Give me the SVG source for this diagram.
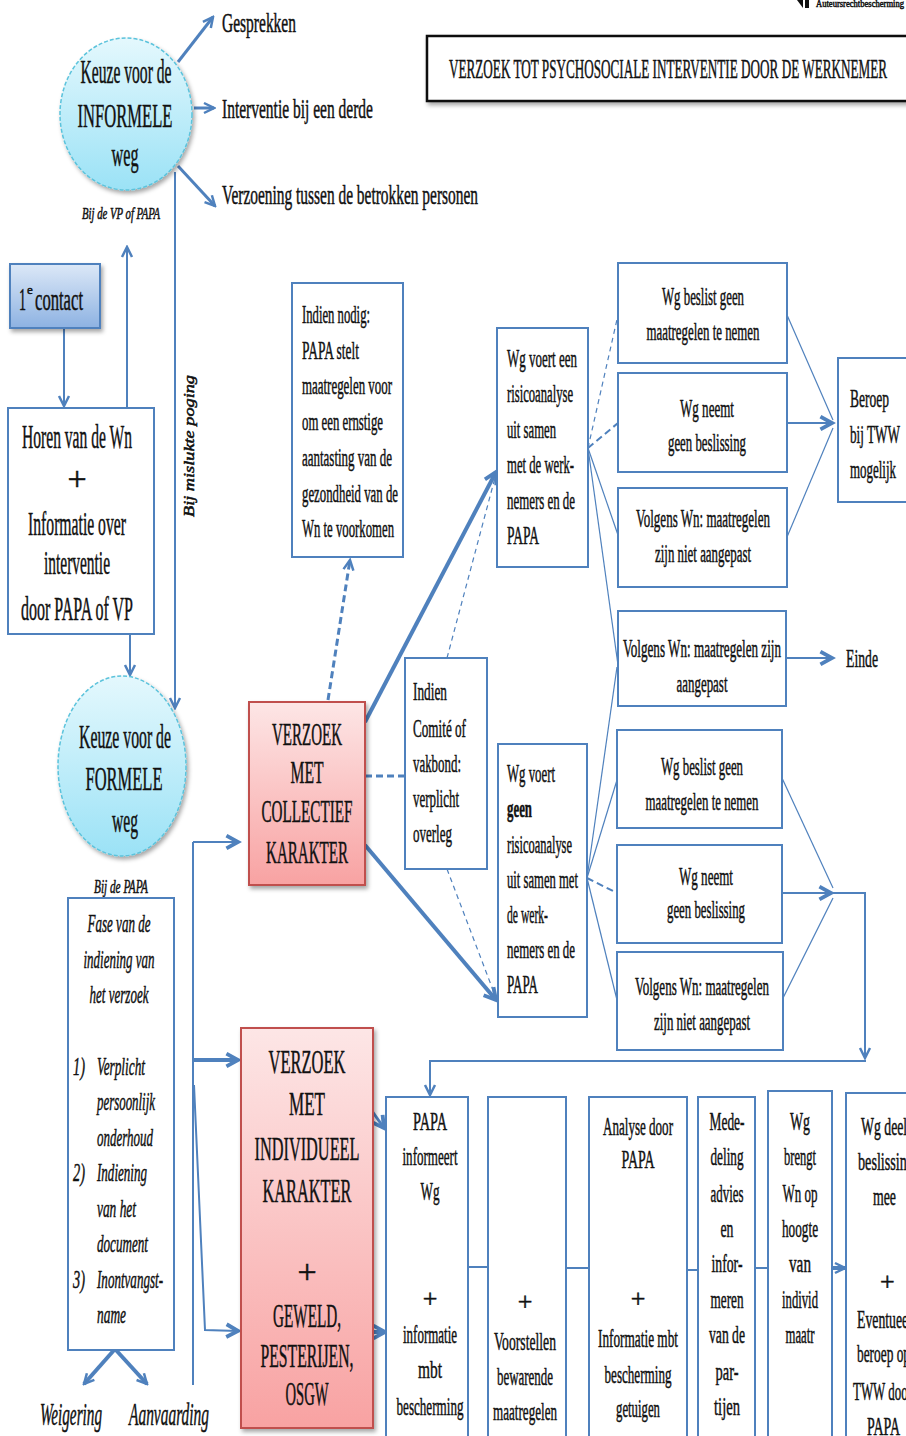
<svg xmlns="http://www.w3.org/2000/svg" width="906" height="1436" viewBox="0 0 906 1436">
<defs>
<style>
.t{font-family:"Liberation Serif","Times New Roman",serif;fill:#111;stroke:#111;stroke-width:0.5}
.c{text-anchor:middle}
.i{font-style:italic}
.s34{font-size:34px}.s32{font-size:32px}.s30{font-size:30px}.s28{font-size:28px}.s26{font-size:26px}.s18{font-size:18px}.s16{font-size:16px}
.box{fill:#fff;stroke:#4f81bd;stroke-width:2}
.ln{stroke:#4f81bd;stroke-width:2;fill:none}
.th{stroke-width:4}
.tk{stroke-width:3}
.tn{stroke-width:1.2}
.ds{stroke-dasharray:7,4}
.dt{stroke-dasharray:5,4}
</style>
<marker id="a" viewBox="0 0 14 14" refX="12" refY="7" markerWidth="14" markerHeight="14" markerUnits="userSpaceOnUse" orient="auto"><path d="M2,2 L12,7 L2,12" fill="none" stroke="#4f81bd" stroke-width="2.5"/></marker>
<marker id="b" viewBox="0 0 14 14" refX="11" refY="7" markerWidth="18" markerHeight="18" markerUnits="userSpaceOnUse" orient="auto"><path d="M2,2 L11,7 L2,12" fill="none" stroke="#4f81bd" stroke-width="3"/></marker>
<linearGradient id="gc" x1="0" y1="0" x2="0" y2="1"><stop offset="0" stop-color="#e4f8fd"/><stop offset="1" stop-color="#9be2f6"/></linearGradient>
<linearGradient id="gp" x1="0" y1="0" x2="0" y2="1"><stop offset="0" stop-color="#fde6e6"/><stop offset="1" stop-color="#f8a2a2"/></linearGradient>
<linearGradient id="gb" x1="0" y1="0" x2="0" y2="1"><stop offset="0" stop-color="#dce8f7"/><stop offset="1" stop-color="#8db2e2"/></linearGradient>
<filter id="sh" x="-15%" y="-15%" width="140%" height="140%"><feDropShadow dx="2" dy="3" stdDeviation="2" flood-color="#000" flood-opacity="0.35"/></filter>
</defs>
<rect width="906" height="1436" fill="#fff"/>

<g id="corner">
<path d="M797,0 L803,0 L803,8 Z" fill="#111"/><rect x="805" y="0" width="4" height="8" fill="#111"/>
<text class="t" x="816" y="7" font-size="10" stroke-width="0.2" textLength="88" lengthAdjust="spacingAndGlyphs">Auteursrechtbescherming</text>
</g>

<g id="title">
<rect x="427" y="36" width="500" height="65" fill="#fff" stroke="#111" stroke-width="2.5" filter="url(#sh)"/>
<text class="t s28" x="449" y="78" stroke-width="0.8" textLength="438" lengthAdjust="spacingAndGlyphs">VERZOEK TOT PSYCHOSOCIALE INTERVENTIE DOOR DE WERKNEMER</text>
</g>

<g id="connectors">
<line class="ln" x1="64" y1="329" x2="64" y2="406" marker-end="url(#a)"/>
<line class="ln" x1="127" y1="408" x2="127" y2="247" marker-end="url(#a)"/>
<line class="ln" x1="130" y1="634" x2="130" y2="675" marker-end="url(#a)"/>
<line class="ln" x1="175" y1="172" x2="175" y2="708" marker-end="url(#a)"/>
<line class="ln tk" x1="178" y1="62" x2="213" y2="17" marker-end="url(#a)"/>
<line class="ln tk" x1="194" y1="108" x2="214" y2="108" marker-end="url(#a)"/>
<line class="ln tk" x1="178" y1="166" x2="215" y2="206" marker-end="url(#a)"/>
<line class="ln th" x1="115" y1="1349" x2="84" y2="1384" marker-end="url(#a)"/>
<line class="ln th" x1="115" y1="1349" x2="147" y2="1384" marker-end="url(#a)"/>
<line class="ln" x1="193" y1="842" x2="193" y2="1385"/>
<polyline class="ln" points="193,842 238,842" marker-end="url(#b)"/>
<line class="ln th" x1="193" y1="1060" x2="238" y2="1060" marker-end="url(#b)"/>
<polyline class="ln" points="194,1085 205,1330 238,1331" marker-end="url(#b)"/>
<line class="ln tk ds" x1="328" y1="700" x2="350" y2="560" marker-end="url(#a)"/>
<line class="ln th" x1="365" y1="722" x2="496" y2="472" marker-end="url(#b)"/>
<line class="ln th" x1="365" y1="845" x2="496" y2="1000" marker-end="url(#b)"/>
<line class="ln tk ds" x1="365" y1="776" x2="405" y2="776"/>
<line class="ln tn dt" x1="447" y1="658" x2="496" y2="474"/>
<line class="ln tn dt" x1="447" y1="869" x2="496" y2="998"/>
<line class="ln tn dt" x1="588" y1="448" x2="618" y2="315"/>
<line class="ln ds" x1="588" y1="448" x2="618" y2="423"/>
<line class="ln tn" x1="588" y1="448" x2="618" y2="535"/>
<line class="ln tn" x1="588" y1="448" x2="618" y2="665"/>
<line class="ln tn" x1="587" y1="878" x2="617" y2="667"/>
<line class="ln tn" x1="587" y1="878" x2="617" y2="780"/>
<line class="ln ds" x1="587" y1="878" x2="617" y2="893"/>
<line class="ln tn" x1="587" y1="878" x2="617" y2="1000"/>
<line class="ln tn" x1="787" y1="315" x2="833" y2="420"/>
<line class="ln" x1="787" y1="423" x2="832" y2="423" stroke-width="5" marker-end="url(#b)"/>
<line class="ln tn" x1="787" y1="537" x2="833" y2="428"/>
<line class="ln" x1="786" y1="658" x2="832" y2="658" stroke-width="2.5" marker-end="url(#b)"/>
<line class="ln tn" x1="782" y1="778" x2="833" y2="888"/>
<line class="ln" x1="782" y1="893" x2="831" y2="893" stroke-width="5" marker-end="url(#b)"/>
<line class="ln tn" x1="782" y1="1000" x2="833" y2="898"/>
<polyline class="ln" points="833,893 865,893 865,1058" marker-end="url(#a)"/>
<polyline class="ln" points="866,1061 430,1061 430,1095" marker-end="url(#a)"/>
<line class="ln tk" x1="348" y1="1077" x2="384" y2="1128" marker-end="url(#b)"/>
<line class="ln th" x1="350" y1="1332" x2="385" y2="1332" marker-end="url(#b)"/>
<line class="ln" x1="468" y1="1267" x2="488" y2="1267"/>
<line class="ln" x1="566" y1="1268" x2="589" y2="1268"/>
<line class="ln" x1="687" y1="1270" x2="698" y2="1270"/>
<line class="ln" x1="755" y1="1268" x2="768" y2="1268"/>
<line class="ln th" x1="832" y1="1268" x2="845" y2="1268" marker-end="url(#a)"/>
</g>

<g id="labels-top">
<text class="t s28" x="222" y="32" textLength="74" lengthAdjust="spacingAndGlyphs">Gesprekken</text>
<text class="t s28" x="222" y="118" textLength="151" lengthAdjust="spacingAndGlyphs">Interventie bij een derde</text>
<text class="t s28" x="222" y="204" textLength="256" lengthAdjust="spacingAndGlyphs">Verzoening tussen de betrokken personen</text>
<text class="t i s16 c" x="121" y="219" textLength="78" lengthAdjust="spacingAndGlyphs">Bij de VP of PAPA</text>
<text class="t i s18 c" x="121" y="893" textLength="54" lengthAdjust="spacingAndGlyphs">Bij de PAPA</text>
<text class="t i c" font-size="14" stroke-width="0.3" transform="translate(194,446) rotate(-90)" textLength="142" lengthAdjust="spacingAndGlyphs">Bij  mislukte  poging</text>
<text class="t i s32" x="40" y="1425" textLength="62" lengthAdjust="spacingAndGlyphs">Weigering</text>
<text class="t i s32" x="129" y="1425" textLength="80" lengthAdjust="spacingAndGlyphs">Aanvaarding</text>
<text class="t s26" x="846" y="667" textLength="32" lengthAdjust="spacingAndGlyphs">Einde</text>
</g>

<g id="informele">
<ellipse cx="126" cy="114" rx="66" ry="76" fill="url(#gc)" stroke="#5bc3dc" stroke-width="1.5" stroke-dasharray="4,2" filter="url(#sh)"/>
<text class="t s34 c" x="126" y="83" textLength="91" lengthAdjust="spacingAndGlyphs">Keuze voor de</text>
<text class="t s34 c" x="125" y="127" textLength="95" lengthAdjust="spacingAndGlyphs">INFORMELE</text>
<text class="t s34 c" x="125" y="166" textLength="27" lengthAdjust="spacingAndGlyphs">weg</text>
</g>

<g id="contact">
<rect x="10" y="264" width="90" height="64" fill="url(#gb)" stroke="#4f81bd" stroke-width="2" filter="url(#sh)"/>
<text class="t s32" x="19" y="310" textLength="7" lengthAdjust="spacingAndGlyphs">1</text>
<text class="t" x="27" y="294" font-size="13" stroke-width="0.3">e</text>
<text class="t s32" x="35" y="310" textLength="48" lengthAdjust="spacingAndGlyphs">contact</text>
</g>

<g id="horen">
<rect class="box" x="8" y="408" width="146" height="226"/>
<text class="t s34 c" x="77" y="448" textLength="110" lengthAdjust="spacingAndGlyphs">Horen van de Wn</text>
<text class="t s34 c" x="77" y="490">+</text>
<text class="t s34 c" x="77" y="535" textLength="98" lengthAdjust="spacingAndGlyphs">Informatie over</text>
<text class="t s34 c" x="77" y="574" textLength="66" lengthAdjust="spacingAndGlyphs">interventie</text>
<text class="t s34 c" x="77" y="620" textLength="112" lengthAdjust="spacingAndGlyphs">door PAPA of  VP</text>
</g>

<g id="formele">
<ellipse cx="122" cy="766" rx="64" ry="90" fill="url(#gc)" stroke="#5bc3dc" stroke-width="1.5" stroke-dasharray="4,2" filter="url(#sh)"/>
<text class="t s34 c" x="125" y="748" textLength="92" lengthAdjust="spacingAndGlyphs">Keuze voor de</text>
<text class="t s34 c" x="124" y="790" textLength="77" lengthAdjust="spacingAndGlyphs">FORMELE</text>
<text class="t s34 c" x="125" y="832" textLength="26" lengthAdjust="spacingAndGlyphs">weg</text>
</g>

<g id="fase">
<rect class="box" x="68" y="898" width="106" height="452"/>
<text class="t i s26 c" x="119" y="932" textLength="63" lengthAdjust="spacingAndGlyphs">Fase van de</text>
<text class="t i s26 c" x="119" y="968" textLength="71" lengthAdjust="spacingAndGlyphs">indiening van</text>
<text class="t i s26 c" x="119" y="1003" textLength="59" lengthAdjust="spacingAndGlyphs">het verzoek</text>
<text class="t i s26" x="73" y="1075" textLength="12" lengthAdjust="spacingAndGlyphs">1)</text>
<text class="t i s26" x="97" y="1075" textLength="48" lengthAdjust="spacingAndGlyphs">Verplicht</text>
<text class="t i s26" x="97" y="1110" textLength="58" lengthAdjust="spacingAndGlyphs">persoonlijk</text>
<text class="t i s26" x="97" y="1146" textLength="56" lengthAdjust="spacingAndGlyphs">onderhoud</text>
<text class="t i s26" x="73" y="1181" textLength="12" lengthAdjust="spacingAndGlyphs">2)</text>
<text class="t i s26" x="97" y="1181" textLength="50" lengthAdjust="spacingAndGlyphs">Indiening</text>
<text class="t i s26" x="97" y="1217" textLength="39" lengthAdjust="spacingAndGlyphs">van het</text>
<text class="t i s26" x="97" y="1252" textLength="51" lengthAdjust="spacingAndGlyphs">document</text>
<text class="t i s26" x="73" y="1288" textLength="12" lengthAdjust="spacingAndGlyphs">3)</text>
<text class="t i s26" x="97" y="1288" textLength="66" lengthAdjust="spacingAndGlyphs">Inontvangst-</text>
<text class="t i s26" x="97" y="1323" textLength="29" lengthAdjust="spacingAndGlyphs">name</text>
</g>

<g id="indien-nodig">
<rect class="box" x="292" y="283" width="111" height="274"/>
<text class="t s26" x="302" y="323" textLength="68" lengthAdjust="spacingAndGlyphs">Indien nodig:</text>
<text class="t s26" x="302" y="359" textLength="57" lengthAdjust="spacingAndGlyphs">PAPA stelt</text>
<text class="t s26" x="302" y="394" textLength="90" lengthAdjust="spacingAndGlyphs">maatregelen voor</text>
<text class="t s26" x="302" y="430" textLength="81" lengthAdjust="spacingAndGlyphs">om een ernstige</text>
<text class="t s26" x="302" y="466" textLength="90" lengthAdjust="spacingAndGlyphs">aantasting van de</text>
<text class="t s26" x="302" y="502" textLength="96" lengthAdjust="spacingAndGlyphs">gezondheid van de</text>
<text class="t s26" x="302" y="537" textLength="92" lengthAdjust="spacingAndGlyphs">Wn te voorkomen</text>
</g>

<g id="collectief">
<rect x="249" y="702" width="116" height="183" fill="url(#gp)" stroke="#c0504d" stroke-width="2" filter="url(#sh)"/>
<text class="t s32 c" x="307" y="745" textLength="70" lengthAdjust="spacingAndGlyphs">VERZOEK</text>
<text class="t s32 c" x="307" y="783" textLength="33" lengthAdjust="spacingAndGlyphs">MET</text>
<text class="t s32 c" x="307" y="822" textLength="91" lengthAdjust="spacingAndGlyphs">COLLECTIEF</text>
<text class="t s32 c" x="307" y="863" textLength="82" lengthAdjust="spacingAndGlyphs">KARAKTER</text>
</g>

<g id="comite">
<rect class="box" x="405" y="658" width="82" height="211"/>
<text class="t s26" x="413" y="700" textLength="34" lengthAdjust="spacingAndGlyphs">Indien</text>
<text class="t s26" x="413" y="737" textLength="53" lengthAdjust="spacingAndGlyphs">Comité of</text>
<text class="t s26" x="413" y="772" textLength="48" lengthAdjust="spacingAndGlyphs">vakbond:</text>
<text class="t s26" x="413" y="807" textLength="46" lengthAdjust="spacingAndGlyphs">verplicht</text>
<text class="t s26" x="413" y="842" textLength="39" lengthAdjust="spacingAndGlyphs">overleg</text>
</g>

<g id="wg-voert-een">
<rect class="box" x="497" y="328" width="91" height="239"/>
<text class="t s26" x="507" y="367" textLength="70" lengthAdjust="spacingAndGlyphs">Wg voert een</text>
<text class="t s26" x="507" y="402" textLength="66" lengthAdjust="spacingAndGlyphs">risicoanalyse</text>
<text class="t s26" x="507" y="438" textLength="49" lengthAdjust="spacingAndGlyphs">uit samen</text>
<text class="t s26" x="507" y="473" textLength="67" lengthAdjust="spacingAndGlyphs">met de werk-</text>
<text class="t s26" x="507" y="509" textLength="68" lengthAdjust="spacingAndGlyphs">nemers en de</text>
<text class="t s26" x="507" y="544" textLength="32" lengthAdjust="spacingAndGlyphs">PAPA</text>
</g>

<g id="wg-voert-geen">
<rect class="box" x="498" y="744" width="89" height="273"/>
<text class="t s26" x="507" y="782" textLength="48" lengthAdjust="spacingAndGlyphs">Wg voert</text>
<text class="t s26" x="507" y="817" font-weight="bold" textLength="25" lengthAdjust="spacingAndGlyphs">geen</text>
<text class="t s26" x="507" y="853" textLength="65" lengthAdjust="spacingAndGlyphs">risicoanalyse</text>
<text class="t s26" x="507" y="888" textLength="71" lengthAdjust="spacingAndGlyphs">uit samen met</text>
<text class="t s26" x="507" y="923" textLength="41" lengthAdjust="spacingAndGlyphs">de werk-</text>
<text class="t s26" x="507" y="958" textLength="68" lengthAdjust="spacingAndGlyphs">nemers en de</text>
<text class="t s26" x="507" y="993" textLength="31" lengthAdjust="spacingAndGlyphs">PAPA</text>
</g>

<g id="top-beslist">
<rect class="box" x="618" y="263" width="169" height="100"/>
<text class="t s26 c" x="703" y="305" textLength="82" lengthAdjust="spacingAndGlyphs">Wg beslist geen</text>
<text class="t s26 c" x="703" y="340" textLength="113" lengthAdjust="spacingAndGlyphs">maatregelen te nemen</text>
</g>
<g id="top-neemt">
<rect class="box" x="618" y="373" width="169" height="99"/>
<text class="t s26 c" x="707" y="417" textLength="54" lengthAdjust="spacingAndGlyphs">Wg neemt</text>
<text class="t s26 c" x="707" y="451" textLength="78" lengthAdjust="spacingAndGlyphs">geen beslissing</text>
</g>
<g id="top-niet-aangepast">
<rect class="box" x="618" y="488" width="169" height="99"/>
<text class="t s26 c" x="703" y="527" textLength="134" lengthAdjust="spacingAndGlyphs">Volgens Wn: maatregelen</text>
<text class="t s26 c" x="703" y="562" textLength="96" lengthAdjust="spacingAndGlyphs">zijn niet aangepast</text>
</g>
<g id="beroep">
<rect class="box" x="838" y="358" width="80" height="144"/>
<text class="t s26" x="850" y="407" textLength="39" lengthAdjust="spacingAndGlyphs">Beroep</text>
<text class="t s26" x="850" y="443" textLength="50" lengthAdjust="spacingAndGlyphs">bij TWW</text>
<text class="t s26" x="850" y="478" textLength="46" lengthAdjust="spacingAndGlyphs">mogelijk</text>
</g>
<g id="aangepast">
<rect class="box" x="618" y="611" width="168" height="95"/>
<text class="t s26 c" x="702" y="657" textLength="158" lengthAdjust="spacingAndGlyphs">Volgens Wn: maatregelen zijn</text>
<text class="t s26 c" x="702" y="692" textLength="51" lengthAdjust="spacingAndGlyphs">aangepast</text>
</g>

<g id="low-beslist">
<rect class="box" x="617" y="730" width="165" height="98"/>
<text class="t s26 c" x="702" y="775" textLength="82" lengthAdjust="spacingAndGlyphs">Wg beslist geen</text>
<text class="t s26 c" x="702" y="810" textLength="113" lengthAdjust="spacingAndGlyphs">maatregelen te nemen</text>
</g>
<g id="low-neemt">
<rect class="box" x="617" y="845" width="165" height="98"/>
<text class="t s26 c" x="706" y="885" textLength="54" lengthAdjust="spacingAndGlyphs">Wg neemt</text>
<text class="t s26 c" x="706" y="918" textLength="78" lengthAdjust="spacingAndGlyphs">geen beslissing</text>
</g>
<g id="low-niet-aangepast">
<rect class="box" x="617" y="952" width="166" height="98"/>
<text class="t s26 c" x="702" y="995" textLength="134" lengthAdjust="spacingAndGlyphs">Volgens Wn: maatregelen</text>
<text class="t s26 c" x="702" y="1030" textLength="96" lengthAdjust="spacingAndGlyphs">zijn niet aangepast</text>
</g>

<g id="individueel">
<rect x="241" y="1028" width="132" height="400" fill="url(#gp)" stroke="#c0504d" stroke-width="2" filter="url(#sh)"/>
<text class="t s34 c" x="307" y="1073" textLength="77" lengthAdjust="spacingAndGlyphs">VERZOEK</text>
<text class="t s34 c" x="307" y="1115" textLength="36" lengthAdjust="spacingAndGlyphs">MET</text>
<text class="t s34 c" x="307" y="1160" textLength="105" lengthAdjust="spacingAndGlyphs">INDIVIDUEEL</text>
<text class="t s34 c" x="307" y="1202" textLength="89" lengthAdjust="spacingAndGlyphs">KARAKTER</text>
<text class="t s34 c" x="307" y="1283">+</text>
<text class="t s34 c" x="307" y="1327" textLength="68" lengthAdjust="spacingAndGlyphs">GEWELD,</text>
<text class="t s34 c" x="307" y="1367" textLength="93" lengthAdjust="spacingAndGlyphs">PESTERIJEN,</text>
<text class="t s34 c" x="307" y="1405" textLength="43" lengthAdjust="spacingAndGlyphs">OSGW</text>
</g>

<g id="papa-informeert">
<rect class="box" x="386" y="1097" width="82" height="350"/>
<text class="t s26 c" x="430" y="1130" textLength="34" lengthAdjust="spacingAndGlyphs">PAPA</text>
<text class="t s26 c" x="430" y="1165" textLength="55" lengthAdjust="spacingAndGlyphs">informeert</text>
<text class="t s26 c" x="430" y="1200" textLength="19" lengthAdjust="spacingAndGlyphs">Wg</text>
<text class="t s26 c" x="430" y="1307">+</text>
<text class="t s26 c" x="430" y="1343" textLength="54" lengthAdjust="spacingAndGlyphs">informatie</text>
<text class="t s26 c" x="430" y="1378" textLength="24" lengthAdjust="spacingAndGlyphs">mbt</text>
<text class="t s26 c" x="430" y="1415" textLength="67" lengthAdjust="spacingAndGlyphs">bescherming</text>
</g>
<g id="voorstellen">
<rect class="box" x="488" y="1097" width="78" height="350"/>
<text class="t s26 c" x="525" y="1310">+</text>
<text class="t s26 c" x="525" y="1350" textLength="62" lengthAdjust="spacingAndGlyphs">Voorstellen</text>
<text class="t s26 c" x="525" y="1385" textLength="56" lengthAdjust="spacingAndGlyphs">bewarende</text>
<text class="t s26 c" x="525" y="1420" textLength="64" lengthAdjust="spacingAndGlyphs">maatregelen</text>
</g>
<g id="analyse">
<rect class="box" x="589" y="1097" width="98" height="350"/>
<text class="t s26 c" x="638" y="1135" textLength="70" lengthAdjust="spacingAndGlyphs">Analyse door</text>
<text class="t s26 c" x="638" y="1168" textLength="33" lengthAdjust="spacingAndGlyphs">PAPA</text>
<text class="t s26 c" x="638" y="1307">+</text>
<text class="t s26 c" x="638" y="1347" textLength="80" lengthAdjust="spacingAndGlyphs">Informatie mbt</text>
<text class="t s26 c" x="638" y="1383" textLength="67" lengthAdjust="spacingAndGlyphs">bescherming</text>
<text class="t s26 c" x="638" y="1417" textLength="44" lengthAdjust="spacingAndGlyphs">getuigen</text>
</g>
<g id="mededeling">
<rect class="box" x="698" y="1097" width="57" height="350"/>
<text class="t s26 c" x="727" y="1130" textLength="35" lengthAdjust="spacingAndGlyphs">Mede-</text>
<text class="t s26 c" x="727" y="1165" textLength="33" lengthAdjust="spacingAndGlyphs">deling</text>
<text class="t s26 c" x="727" y="1202" textLength="33" lengthAdjust="spacingAndGlyphs">advies</text>
<text class="t s26 c" x="727" y="1237" textLength="13" lengthAdjust="spacingAndGlyphs">en</text>
<text class="t s26 c" x="727" y="1272" textLength="31" lengthAdjust="spacingAndGlyphs">infor-</text>
<text class="t s26 c" x="727" y="1308" textLength="33" lengthAdjust="spacingAndGlyphs">meren</text>
<text class="t s26 c" x="727" y="1343" textLength="36" lengthAdjust="spacingAndGlyphs">van de</text>
<text class="t s26 c" x="727" y="1380" textLength="23" lengthAdjust="spacingAndGlyphs">par-</text>
<text class="t s26 c" x="727" y="1415" textLength="26" lengthAdjust="spacingAndGlyphs">tijen</text>
</g>
<g id="wg-brengt">
<rect class="box" x="768" y="1091" width="64" height="356"/>
<text class="t s26 c" x="800" y="1130" textLength="20" lengthAdjust="spacingAndGlyphs">Wg</text>
<text class="t s26 c" x="800" y="1165" textLength="32" lengthAdjust="spacingAndGlyphs">brengt</text>
<text class="t s26 c" x="800" y="1202" textLength="35" lengthAdjust="spacingAndGlyphs">Wn op</text>
<text class="t s26 c" x="800" y="1237" textLength="36" lengthAdjust="spacingAndGlyphs">hoogte</text>
<text class="t s26 c" x="800" y="1272" textLength="22" lengthAdjust="spacingAndGlyphs">van</text>
<text class="t s26 c" x="800" y="1308" textLength="36" lengthAdjust="spacingAndGlyphs">individ</text>
<text class="t s26 c" x="800" y="1343" textLength="29" lengthAdjust="spacingAndGlyphs">maatr</text>
</g>
<g id="wg-deelt">
<rect class="box" x="846" y="1093" width="80" height="354"/>
<text class="t s26" x="861" y="1135" textLength="50" lengthAdjust="spacingAndGlyphs">Wg deelt</text>
<text class="t s26" x="858" y="1170" textLength="56" lengthAdjust="spacingAndGlyphs">beslissing</text>
<text class="t s26" x="873" y="1205" textLength="23" lengthAdjust="spacingAndGlyphs">mee</text>
<text class="t s26" x="880" y="1290">+</text>
<text class="t s26" x="857" y="1328" textLength="55" lengthAdjust="spacingAndGlyphs">Eventueel</text>
<text class="t s26" x="857" y="1362" textLength="53" lengthAdjust="spacingAndGlyphs">beroep op</text>
<text class="t s26" x="853" y="1400" textLength="59" lengthAdjust="spacingAndGlyphs">TWW door</text>
<text class="t s26" x="867" y="1435" textLength="33" lengthAdjust="spacingAndGlyphs">PAPA</text>
</g>
</svg>
